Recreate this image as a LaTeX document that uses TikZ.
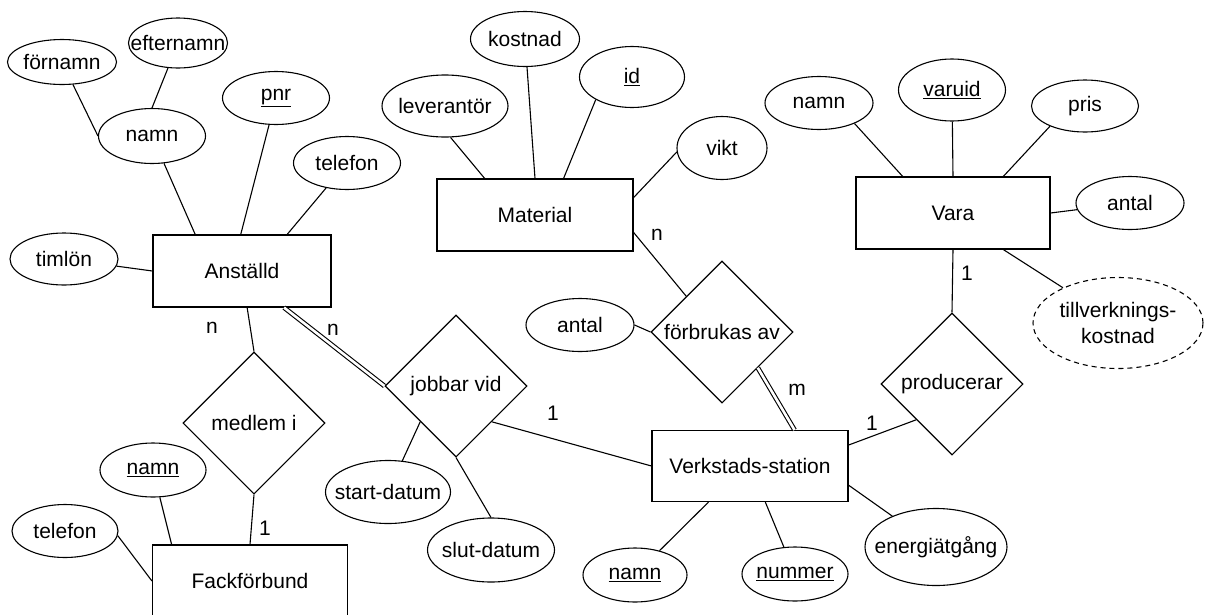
\documentclass[tikz,border=0pt]{standalone}
\usepackage{fontspec}
\setmainfont{Liberation Sans}
\usetikzlibrary{shapes.geometric}
\tikzset{
  entity/.style={draw,rectangle,minimum width=196pt,minimum height=72pt,inner sep=0pt},
  attrib/.style={draw,ellipse,minimum width=107pt,minimum height=53pt,inner xsep=-18pt,inner ysep=0pt},
  relship/.style={draw,diamond,aspect=1,minimum width=142pt,minimum height=142pt,inner sep=0pt},
  dblline/.style={double,double distance=2.6pt},
  card/.style={inner sep=0pt}
}

\begin{document}
\begin{tikzpicture}[x=1pt,y=-1pt,line width=1.1pt,font=\fontsize{21}{26}\selectfont]
  \useasboundingbox (0,0) rectangle (1211,614);

  % entities
  \node[entity,minimum width=178pt] (anst) at (242,271) {Anställd};
  \node[entity] (mat)  at (535,215) {Material};
  \node[entity,minimum width=194pt] (vara) at (953,213) {Vara};
  \node[entity,minimum height=71pt] (verk) at (750,466) {Verkstads-station};
  \node[entity,minimum width=195pt] (fack) at (250,581) {Fackförbund};

  % relationships
  \node[relship] (medl) at (254,423) {medlem i};
  \node[relship] (jobb) at (456,386) {jobbar vid};
  \node[relship] (forb) at (722,332) {förbrukas av};
  \node[relship] (prod) at (952,384) {producerar};

  % attributes
  \node[attrib,minimum width=109pt,minimum height=45pt] (forn) at (62,62) {förnamn};
  \node[attrib,minimum width=99pt,minimum height=50pt] (eftn) at (178,43) {efternamn};
  \node[attrib,minimum height=55pt] (namnA) at (152,136) {namn};
  \node[attrib] (pnr)  at (276,98) {\underline{pnr}};
  \node[attrib] (telA) at (347,163) {telefon};
  \node[attrib,minimum width=108pt,minimum height=52pt] (timl) at (64,259) {timlön};

  \node[attrib,minimum width=126pt,minimum height=62pt] (lev) at (445,106) {leverantör};
  \node[attrib,minimum width=109pt,minimum height=55pt] (kost) at (525,39) {kostnad};
  \node[attrib,minimum width=105pt,minimum height=61pt] (id) at (632,77) {\underline{id}};
  \node[attrib,minimum width=90pt,minimum height=63pt] (vikt) at (722,148) {vikt};

  \node[attrib,minimum width=108pt] (namnV) at (819,103) {namn};
  \node[attrib,minimum height=62pt] (varuid) at (952,90) {\underline{varuid}};
  \node[attrib,minimum height=52pt] (pris) at (1085,106) {pris};
  \node[attrib,minimum width=108pt] (antalV) at (1130,203) {antal};
  \node[attrib,dashed,dash pattern=on 5pt off 4pt,minimum width=170pt,minimum height=91pt,
        inner xsep=0pt,align=center] (tillv) at (1118,323) {tillverknings-\\kostnad};

  \node[attrib,minimum width=108pt] (antalF) at (580,325) {antal};
  \node[attrib,minimum width=125pt,minimum height=63pt] (start) at (388,492) {start-datum};
  \node[attrib,minimum width=127pt,minimum height=64pt] (slut) at (491,550) {slut-datum};

  \node[attrib,minimum width=104pt,minimum height=54pt] (namnVS) at (635,575) {\underline{namn}};
  \node[attrib,minimum width=106pt,minimum height=54pt] (nummer) at (795,574) {\underline{nummer}};
  \node[attrib,minimum width=142pt,minimum height=77pt] (energi) at (936,547) {energiätgång};

  \node[attrib,minimum width=106pt,minimum height=54pt] (namnF) at (153,470) {\underline{namn}};
  \node[attrib,minimum width=106pt] (telF) at (65,531) {telefon};

  % cardinalities
  \node[card] (cMat)   at (657,235) {n};
  \node[card] (cVara)  at (967,273) {1};
  \node[card] (cVerkF) at (797,390) {m};
  \node[card] (cVerkJ) at (553,413) {1};
  \node[card] (cVerkP) at (872,423) {1};
  \node[card] (cAnstJ) at (333,330) {n};
  \node[card] (cAnstM) at (212,328) {n};
  \node[card] (cFack)  at (265,528) {1};

  % Anställd
  \draw (forn) -- (namnA.west);
  \draw (eftn) -- (namnA.north);
  \draw (namnA) -- (anst.142);
  \draw (pnr) -- (anst.92);
  \draw (telA) -- (anst.39);
  \draw (timl) -- (anst.west);
  \draw (anst.278) -- (medl.north);
  \draw[dblline] (anst.319) -- (jobb.west);

  % Material
  \draw (lev.280) -- (mat.144);
  \draw (kost) -- (mat.north);
  \draw (id.212) -- (mat.52);
  \draw (vikt.185) -- (mat.10);
  \draw (mat.350) -- (forb.north west);

  % Vara
  \draw (namnV.330) -- (vara.144);
  \draw (varuid) -- (vara.north);
  \draw (pris.210) -- (vara.36);
  \draw (antalV) -- (vara.east);
  \draw (tillv) -- (vara.324);
  \draw (vara.south) -- (prod.north);

  % relationships
  \draw (antalF.east) -- (forb.west);
  \draw[dblline] (forb.south east) -- (verk.39);
  \draw (jobb.south east) -- (verk.west);
  \draw (start) -- (jobb.south west);
  \draw (slut.north) -- (jobb.south);
  \draw (prod.south west) -- (verk.12);
  \draw (medl.south) -- (fack.north);

  % Verkstads-station
  \draw (namnVS) -- (verk.221);
  \draw (nummer) -- (verk.293);
  \draw (energi) -- (verk.349);

  % Fackförbund
  \draw (namnF) -- (fack.155);
  \draw (telF.355) -- (fack.west);
\end{tikzpicture}
\end{document}
